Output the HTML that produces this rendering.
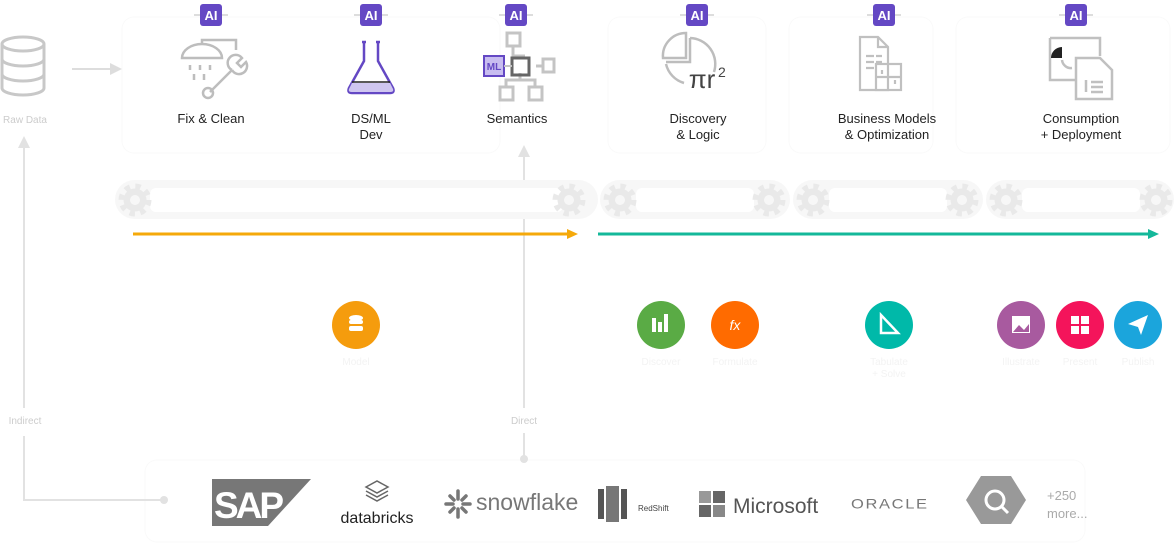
<!DOCTYPE html>
<html><head><meta charset="utf-8"><style>
html,body{margin:0;padding:0;background:#fff;width:1174px;height:544px;overflow:hidden}
svg{display:block}
text{font-family:"Liberation Sans",sans-serif}
</style></head><body>
<svg width="1174" height="544" viewBox="0 0 1174 544" xmlns="http://www.w3.org/2000/svg">
<defs>
  <g id="gear">
    <circle r="13" fill="none" stroke="#e9e9e9" stroke-width="7" stroke-dasharray="5 5.2"/>
    <circle r="11.5" fill="#e9e9e9"/>
    <circle r="5" fill="#f7f7f7"/>
  </g>
  <g id="ai">
    <line x1="-17" y1="0" x2="17" y2="0" stroke="#bbb" stroke-width="1"/>
    <rect x="-11" y="-11" width="22" height="22" rx="3" fill="#6448c4"/>
    <text x="0" y="5" font-size="13" font-weight="bold" fill="#fff" text-anchor="middle" font-family="Liberation Sans Narrow, Liberation Sans, sans-serif">AI</text>
  </g>
</defs>

<!-- faint boxes -->
<rect x="122" y="17" width="378" height="136" rx="12" fill="none" stroke="#fafafa"/>
<rect x="608" y="17" width="158" height="136" rx="12" fill="none" stroke="#fafafa"/>
<rect x="789" y="17" width="144" height="136" rx="12" fill="none" stroke="#fafafa"/>
<rect x="956" y="17" width="214" height="136" rx="12" fill="none" stroke="#fafafa"/>
<rect x="145" y="460" width="940" height="82" rx="12" fill="none" stroke="#fafafa"/>

<!-- Raw data DB -->
<g fill="none" stroke="#c8c8c8" stroke-width="3">
  <ellipse cx="23" cy="44" rx="21" ry="7"/>
  <path d="M2 44 V88 A21 7 0 0 0 44 88 V44"/>
  <path d="M2 59 A21 7 0 0 0 44 59 M2 74 A21 7 0 0 0 44 74"/>
</g>
<line x1="72" y1="69" x2="112" y2="69" stroke="#ddd" stroke-width="2"/>
<polygon points="110,63 122,69 110,75" fill="#ddd"/>
<text x="25" y="123" font-size="10" fill="#ccc" text-anchor="middle">Raw Data</text>

<!-- Indirect line -->
<line x1="24" y1="146" x2="24" y2="408" stroke="#e2e2e2" stroke-width="2"/>
<polygon points="18,148 24,136 30,148" fill="#e2e2e2"/>
<text x="25" y="424" font-size="10" fill="#ccc" text-anchor="middle">Indirect</text>
<polyline points="24,436 24,500 163,500" fill="none" stroke="#e2e2e2" stroke-width="2"/>
<circle cx="164" cy="500" r="4" fill="#e2e2e2"/>

<!-- Direct line -->
<line x1="524" y1="152" x2="524" y2="408" stroke="#e2e2e2" stroke-width="2"/>
<polygon points="518,157 524,145 530,157" fill="#e2e2e2"/>
<text x="524" y="424" font-size="10" fill="#ccc" text-anchor="middle">Direct</text>
<line x1="524" y1="433" x2="524" y2="458" stroke="#e2e2e2" stroke-width="2"/>
<circle cx="524" cy="459" r="4" fill="#e2e2e2"/>

<!-- AI badges -->
<use href="#ai" x="211" y="15"/>
<use href="#ai" x="371" y="15"/>
<use href="#ai" x="516" y="15"/>
<use href="#ai" x="697" y="15"/>
<use href="#ai" x="884" y="15"/>
<use href="#ai" x="1076" y="15"/>

<!-- Fix & Clean icon -->
<g fill="none" stroke="#bdbdbd" stroke-width="2.5">
  <path d="M182 58 A20 14 0 0 1 222 58 Z"/>
  <path d="M202 44 V40 H236 V50"/>
  <path d="M190 65v5 M200 65v5 M210 65v5 M194 74v6 M204 74v6"/>
  <path d="M210 92 L232 70"/>
  <circle cx="208" cy="93" r="5"/>
  <path d="M232 70 a8 8 0 1 1 10 -12 l-5 5 4 4 5 -5 a8 8 0 0 1 -14 8"/>
</g>
<text x="211" y="123" font-size="13" fill="#222" text-anchor="middle">Fix &amp; Clean</text>

<!-- Flask -->
<path d="M364 42 V61 L349 88 Q347 93 352 93 H390 Q395 93 393 88 L378 61 V42" fill="none" stroke="#6448c4" stroke-width="2.5"/>
<path d="M352 83 H390 L393 89 Q394 92 390 92 H352 Q348 92 349 89 Z" fill="#cfc6f0"/>
<line x1="352" y1="82" x2="390" y2="82" stroke="#222" stroke-width="1.5"/>
<path d="M362 42h4 M376 42h4" stroke="#6448c4" stroke-width="2.5"/>
<text x="371" y="123" font-size="13" fill="#222" text-anchor="middle">DS/ML</text>
<text x="371" y="139" font-size="13" fill="#222" text-anchor="middle">Dev</text>

<!-- Semantics icon -->
<g fill="none" stroke="#c4c4c4" stroke-width="3">
  <rect x="507" y="33" width="13" height="13"/>
  <rect x="543" y="59" width="11" height="13"/>
  <rect x="500" y="87" width="13" height="13"/>
  <rect x="529" y="87" width="13" height="13"/>
  <path d="M513 46v10h12 M536 66h7 M520 73v7h-14v7 M520 80h15v7"/>
</g>
<rect x="512" y="58" width="17" height="17" fill="none" stroke="#666" stroke-width="3"/>
<rect x="484" y="56" width="20" height="20" fill="#c8bdf0" stroke="#6448c4" stroke-width="2"/>
<text x="494" y="70" font-size="10" fill="#6448c4" text-anchor="middle" font-weight="bold">ML</text>
<line x1="504" y1="66" x2="512" y2="66" stroke="#c4c4c4" stroke-width="2"/>
<text x="517" y="123" font-size="13" fill="#222" text-anchor="middle">Semantics</text>

<!-- Discovery icon -->
<g fill="none" stroke="#bdbdbd" stroke-width="2.5">
  <path d="M686 33 V58 H663 A23 23 0 0 1 686 33 Z"/>
  <path d="M690 38 A26 26 0 0 1 714 72 M666 64 A26 26 0 0 0 684 83"/>
  <path d="M690 38 V62 H666"/>
</g>
<text x="702" y="88" font-size="26" fill="#444" text-anchor="middle" font-family="Liberation Serif, serif">πr</text>
<text x="718" y="77" font-size="14" fill="#444">2</text>
<text x="698" y="123" font-size="13" fill="#222" text-anchor="middle">Discovery</text>
<text x="698" y="139" font-size="13" fill="#222" text-anchor="middle">&amp; Logic</text>

<!-- Business models icon -->
<g fill="none" stroke="#c0c0c0" stroke-width="2.2">
  <path d="M860 37 H878 L888 47 V90 H860 Z M878 37 V47 H888"/>
  <path d="M866 56h8 M876 56h6 M866 62h8 M876 62h6 M866 68h8 M876 68h6"/>
  <rect x="876" y="64" width="25" height="26" fill="#fff"/>
  <path d="M888 64v26 M876 77h25 M882 70v4 M895 80v4"/>
</g>
<text x="887" y="123" font-size="13" fill="#222" text-anchor="middle">Business Models</text>
<text x="887" y="139" font-size="13" fill="#222" text-anchor="middle">&amp; Optimization</text>

<!-- Consumption icon -->
<g fill="none" stroke="#c0c0c0" stroke-width="2.5">
  <path d="M1050 38 H1100 V56 M1050 38 V80 H1075"/>
  <path d="M1076 58 V99 H1112 V70 L1100 58 Z"/>
  <path d="M1086 80v12 M1091 82h12 M1091 87h12 M1091 92h12"/>
  <path d="M1062 60 A9 9 0 0 0 1072 68"/>
</g>
<path d="M1062 47 V58 H1051 A11 11 0 0 1 1062 47 Z" fill="#222"/>
<text x="1081" y="123" font-size="13" fill="#222" text-anchor="middle">Consumption</text>
<text x="1081" y="139" font-size="13" fill="#222" text-anchor="middle">+ Deployment</text>

<!-- Conveyor belts -->
<g>
  <rect x="115" y="180" width="483" height="39" rx="19.5" fill="#f7f7f7"/>
  <rect x="150" y="188" width="413" height="24" rx="6" fill="#fff"/>
  <use href="#gear" x="135" y="200"/><use href="#gear" x="569" y="200"/>
  <rect x="600" y="180" width="190" height="39" rx="19.5" fill="#f7f7f7"/>
  <rect x="636" y="188" width="118" height="24" rx="6" fill="#fff"/>
  <use href="#gear" x="620" y="200"/><use href="#gear" x="769" y="200"/>
  <rect x="793" y="180" width="190" height="39" rx="19.5" fill="#f7f7f7"/>
  <rect x="829" y="188" width="118" height="24" rx="6" fill="#fff"/>
  <use href="#gear" x="813" y="200"/><use href="#gear" x="962" y="200"/>
  <rect x="986" y="180" width="188" height="39" rx="19.5" fill="#f7f7f7"/>
  <rect x="1022" y="188" width="118" height="24" rx="6" fill="#fff"/>
  <use href="#gear" x="1006" y="200"/><use href="#gear" x="1156" y="200"/>
</g>

<!-- Flow arrows -->
<line x1="133" y1="234" x2="570" y2="234" stroke="#f5a90a" stroke-width="3"/>
<polygon points="567,229 578,234 567,239" fill="#f5a90a"/>
<line x1="598" y1="234" x2="1151" y2="234" stroke="#14b89a" stroke-width="3"/>
<polygon points="1148,229 1159,234 1148,239" fill="#14b89a"/>

<!-- Circles -->
<circle cx="356" cy="325" r="24" fill="#f59c0d"/>
<g fill="#fff"><ellipse cx="356" cy="318" rx="7" ry="3"/><rect x="349" y="320" width="14" height="4" rx="2"/><rect x="349" y="326" width="14" height="5" rx="2"/></g>
<circle cx="661" cy="325" r="24" fill="#5aab45"/>
<g fill="#fff"><rect x="652" y="318" width="4" height="14"/><rect x="658" y="322" width="4" height="10"/><rect x="664" y="314" width="4" height="18"/></g>
<circle cx="735" cy="325" r="24" fill="#ff6b00"/>
<text x="735" y="330" font-size="14" fill="#fff" text-anchor="middle" font-style="italic" font-family="Liberation Serif, serif">fx</text>
<circle cx="889" cy="325" r="24" fill="#00b9a9"/>
<path d="M881 315 L881 333 L898 333 Z" fill="none" stroke="#fff" stroke-width="2.5"/>
<circle cx="1021" cy="325" r="24" fill="#a85a9f"/>
<rect x="1012" y="316" width="18" height="17" fill="#fff"/><path d="M1013 332 L1019 325 L1024 330 L1029 324 V332 Z" fill="#a85a9f"/>
<circle cx="1080" cy="325" r="24" fill="#f4145b"/>
<g fill="#fff"><rect x="1071" y="316" width="8" height="8"/><rect x="1081" y="316" width="8" height="8"/><rect x="1071" y="326" width="8" height="8"/><rect x="1081" y="326" width="8" height="8"/></g>
<circle cx="1138" cy="325" r="24" fill="#1ba5dc"/>
<path d="M1128 324 L1148 315 L1141 335 L1138 327 Z" fill="#fff"/>
<g font-size="10" fill="#f3f3f3" text-anchor="middle">
<text x="356" y="365">Model</text><text x="661" y="365">Discover</text><text x="735" y="365">Formulate</text>
<text x="889" y="365">Tabulate</text><text x="889" y="377">+ Solve</text>
<text x="1021" y="365">Illustrate</text><text x="1080" y="365">Present</text><text x="1138" y="365">Publish</text>
</g>

<!-- Logos -->
<polygon points="212,479 311,479 268,526 212,526" fill="#777"/>
<text x="214" y="518" font-size="37" font-weight="bold" fill="#fff" letter-spacing="-3">SAP</text>
<g fill="none" stroke="#666" stroke-width="1.5">
  <path d="M366 487 L377 481 L388 487 L377 493 Z M366 491 L377 497 L388 491 M366 495 L377 501 L388 495"/>
</g>
<text x="377" y="523" font-size="16" fill="#222" text-anchor="middle">databricks</text>
<g stroke="#777" stroke-width="3.5" stroke-linecap="round">
  <path d="M458 491 v8 M458 509 v8 M446 504 h7 M463 504 h7 M450 496 l4 4 M466 496 l-4 4 M450 512 l4 -4 M466 512 l-4 -4"/>
</g>
<text x="476" y="510" font-size="23" fill="#777">snowflake</text>
<g fill="#555"><rect x="598" y="489" width="6" height="30"/><rect x="606" y="486" width="13" height="36" fill="#777"/><rect x="621" y="489" width="6" height="30"/></g>
<text x="638" y="511" font-size="8" fill="#444">RedShift</text>
<g><rect x="699" y="491" width="12" height="12" fill="#999"/><rect x="713" y="491" width="12" height="12" fill="#666"/><rect x="699" y="505" width="12" height="12" fill="#666"/><rect x="713" y="505" width="12" height="12" fill="#888"/></g>
<text x="733" y="513" font-size="21" fill="#555">Microsoft</text>
<text x="851" y="509" font-size="15" fill="#777" letter-spacing="1.5" transform="translate(851,0) scale(1.1,0.9) translate(-851,56)">ORACLE</text>
<polygon points="981,476 1011,476 1026,500 1011,524 981,524 966,500" fill="#999"/>
<circle cx="995" cy="500" r="9" fill="none" stroke="#fff" stroke-width="3"/>
<line x1="1002" y1="507" x2="1008" y2="513" stroke="#fff" stroke-width="3"/>
<text x="1047" y="500" font-size="13" fill="#aaa">+250</text>
<text x="1047" y="518" font-size="13" fill="#aaa">more...</text>
</svg>
</body></html>
